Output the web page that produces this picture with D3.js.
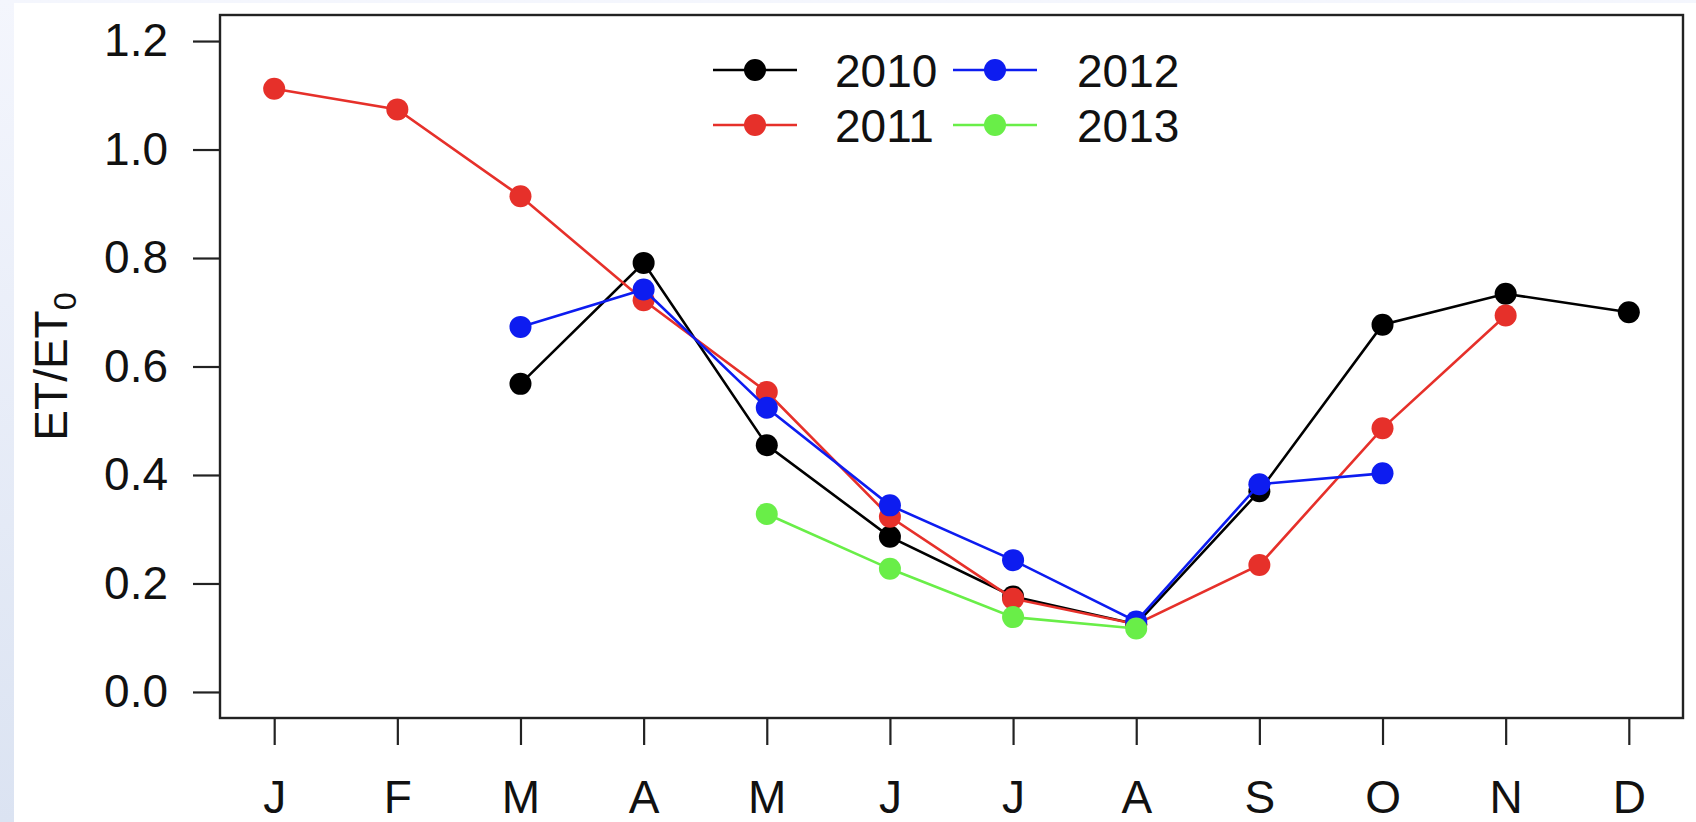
<!DOCTYPE html>
<html>
<head>
<meta charset="utf-8">
<script src="https://cdn.jsdelivr.net/npm/d3@7"></script>
<style>
  html, body { margin: 0; padding: 0; background: #ffffff; }
  svg { display: block; }
  text { font-family: "Liberation Sans", Arial, Helvetica, sans-serif; fill: #111; }
</style>
</head>
<body>
<script>
// Monthly ET/ET0 ratio per year
const months = ["J", "F", "M", "A", "M", "J", "J", "A", "S", "O", "N", "D"];
const years = ["2010", "2011", "2012", "2013"];
const colors = ["#000000", "#e6302a", "#0d1cf0", "#69ee48"];
const ratio2010 = [null, null, 0.568, 0.791, 0.455, 0.286, 0.176, 0.125, 0.370, 0.677, 0.734, 0.700];
const ratio2011 = [1.112, 1.074, 0.914, 0.722, 0.553, 0.323, 0.172, 0.125, 0.234, 0.486, 0.694, null];
const ratio2012 = [null, null, 0.673, 0.742, 0.524, 0.344, 0.243, 0.130, 0.383, 0.403, null, null];
const ratio2013 = [null, null, null, null, 0.328, 0.227, 0.138, 0.117, null, null, null, null];
const yTicks = [0.0, 0.2, 0.4, 0.6, 0.8, 1.0, 1.2];

const seriesValues = [ratio2010, ratio2011, ratio2012, ratio2013];

const W = 1696, H = 822;
const box = { left: 220, right: 1683, top: 15, bottom: 718 };
const fontSize = 46;

const svg = d3.select("body").append("svg")
  .attr("width", W).attr("height", H);

// page backdrop: pale blue strip at left/top, white card
const defs = svg.append("defs");
const grad = defs.append("linearGradient").attr("id", "bg")
  .attr("x1", 0).attr("y1", 0).attr("x2", 0).attr("y2", 1);
grad.append("stop").attr("offset", "0%").attr("stop-color", "#f4f6fd");
grad.append("stop").attr("offset", "100%").attr("stop-color", "#dbe3f2");
svg.append("rect").attr("width", W).attr("height", H).attr("fill", "url(#bg)");
svg.append("rect").attr("x", 14).attr("y", 3).attr("width", W - 14).attr("height", H - 3).attr("fill", "#ffffff");

// scales with 4% padding on each side of the data range
const x = d3.scaleLinear().domain([1 - 0.44, 12 + 0.44]).range([box.left, box.right]);
const y = d3.scaleLinear().domain([-0.048, 1.248]).range([box.bottom, box.top]);

// y axis
const yAxis = d3.axisLeft(y)
  .tickValues(yTicks)
  .tickFormat(d3.format(".1f"))
  .tickSize(27)
  .tickPadding(25);
const gy = svg.append("g").attr("transform", `translate(${box.left},0)`).call(yAxis);
gy.select(".domain").remove();
gy.selectAll(".tick line").attr("stroke", "#222").attr("stroke-width", 2.2);
gy.selectAll(".tick text").attr("font-size", fontSize).attr("fill", "#111")
  .attr("font-family", "Liberation Sans, Arial, sans-serif");

// x axis
const xAxis = d3.axisBottom(x)
  .tickValues(d3.range(1, 13))
  .tickFormat(d => months[d - 1])
  .tickSize(27)
  .tickPadding(35);
const gx = svg.append("g").attr("transform", `translate(0,${box.bottom})`).call(xAxis);
gx.select(".domain").remove();
gx.selectAll(".tick line").attr("stroke", "#222").attr("stroke-width", 2.2);
gx.selectAll(".tick text").attr("font-size", fontSize).attr("fill", "#111")
  .attr("font-family", "Liberation Sans, Arial, sans-serif");

// plot frame
svg.append("rect")
  .attr("x", box.left).attr("y", box.top)
  .attr("width", box.right - box.left).attr("height", box.bottom - box.top)
  .attr("fill", "none").attr("stroke", "#222").attr("stroke-width", 2.4);

// y axis title: ET/ET0
const yTitle = svg.append("text")
  .attr("transform", `translate(67,${(box.top + box.bottom) / 2}) rotate(-90)`)
  .attr("text-anchor", "middle")
  .attr("font-size", fontSize);
yTitle.append("tspan").text("ET/ET");
yTitle.append("tspan").attr("font-size", fontSize * 0.7).attr("dy", 9).text("0");

// series: lines then points, in year order
const line = d3.line()
  .defined(d => d.v !== null)
  .x(d => x(d.m))
  .y(d => y(d.v));

seriesValues.forEach((vals, i) => {
  const pts = vals.map((v, k) => ({ m: k + 1, v }));
  const g = svg.append("g");
  g.append("path")
    .datum(pts)
    .attr("d", line)
    .attr("fill", "none")
    .attr("stroke", colors[i])
    .attr("stroke-width", 2.6);
  g.selectAll("circle")
    .data(pts.filter(d => d.v !== null))
    .join("circle")
    .attr("cx", d => x(d.m))
    .attr("cy", d => y(d.v))
    .attr("r", 11)
    .attr("fill", colors[i]);
});

// legend in two columns
const legCols = [
  { lineX0: 713, lineX1: 797, textX: 835 },
  { lineX0: 953, lineX1: 1037, textX: 1077 }
];
const legRows = [70, 125];
years.forEach((name, i) => {
  const col = legCols[Math.floor(i / 2)];
  const ry = legRows[i % 2];
  const g = svg.append("g");
  g.append("line")
    .attr("x1", col.lineX0).attr("x2", col.lineX1)
    .attr("y1", ry).attr("y2", ry)
    .attr("stroke", colors[i]).attr("stroke-width", 2.6);
  g.append("circle")
    .attr("cx", (col.lineX0 + col.lineX1) / 2).attr("cy", ry)
    .attr("r", 11).attr("fill", colors[i]);
  g.append("text")
    .attr("x", col.textX).attr("y", ry)
    .attr("dy", "0.36em")
    .attr("font-size", fontSize)
    .text(name);
});
</script>
</body>
</html>
